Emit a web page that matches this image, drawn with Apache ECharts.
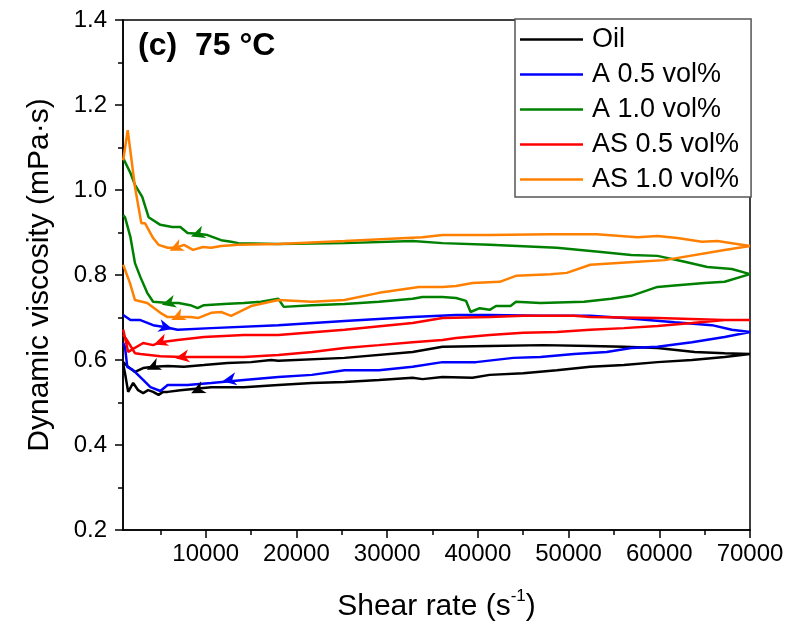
<!DOCTYPE html>
<html><head><meta charset="utf-8">
<script src="https://cdn.jsdelivr.net/npm/echarts@6/dist/echarts.min.js"></script>
<style>html,body{margin:0;padding:0;background:#fff}#c{width:790px;height:630px}</style>
</head><body><div id="c"></div>
<script>
const FONT = 'Liberation Sans, Arial, sans-serif';
const seriesNames = ['Oil', 'A 0.5 vol%', 'A 1.0 vol%', 'AS 0.5 vol%', 'AS 1.0 vol%'];
const seriesColors = ['#000000', '#0000ff', '#008000', '#ff0000', '#ff8000'];
const xMajorTicks = [10000, 20000, 30000, 40000, 50000, 60000, 70000];
const xMinorTicks = [5000, 15000, 25000, 35000, 45000, 55000, 65000];

// Oil
const oilUp = [[900,0.595],[1450,0.584],[2200,0.572],[3100,0.581],[4200,0.584],[5800,0.586],[7600,0.584],[9800,0.588],[12400,0.593],[15000,0.595],[17200,0.600],[18000,0.598],[25300,0.605],[32800,0.619],[36100,0.631],[41300,0.633],[47200,0.635],[52400,0.633],[56100,0.631],[59800,0.628],[63900,0.619],[67200,0.616],[70000,0.614]];
const oilDown = [[900,0.590],[1100,0.569],[1450,0.525],[2000,0.546],[2550,0.529],[3100,0.522],[3650,0.529],[4200,0.525],[4800,0.518],[5300,0.525],[5800,0.525],[7200,0.529],[10600,0.536],[14200,0.536],[18000,0.541],[21700,0.546],[25300,0.548],[29100,0.553],[32800,0.558],[33900,0.555],[36100,0.560],[39400,0.558],[41300,0.565],[45000,0.569],[48700,0.576],[52400,0.584],[56100,0.588],[59800,0.595],[63600,0.600],[67200,0.607],[70000,0.614]];
// A 0.5 vol%
const a05Up = [[900,0.706],[1700,0.694],[2800,0.694],[4200,0.682],[5600,0.677],[6900,0.671],[10600,0.675],[18000,0.682],[25300,0.692],[32800,0.701],[37600,0.706],[41300,0.706],[46900,0.704],[52400,0.704],[56100,0.699],[61700,0.689],[65800,0.682],[68000,0.671],[70000,0.666]];
const a05Down = [[900,0.640],[1100,0.631],[1350,0.584],[2000,0.576],[3100,0.553],[3900,0.536],[5000,0.527],[5800,0.541],[8000,0.541],[10600,0.546],[14200,0.553],[18000,0.560],[21700,0.565],[25300,0.576],[29100,0.576],[32800,0.584],[36100,0.595],[39800,0.595],[43900,0.605],[46900,0.607],[50600,0.614],[54200,0.619],[56900,0.628],[59800,0.631],[63600,0.642],[67200,0.654],[70000,0.666]];
// A 1.0 vol%
const a10Up = [[900,1.075],[1700,1.040],[2200,1.012],[3000,0.984],[3700,0.936],[5000,0.918],[6300,0.913],[7200,0.913],[8000,0.899],[9100,0.897],[10200,0.894],[11700,0.882],[12800,0.878],[13600,0.875],[18000,0.873],[25300,0.875],[32800,0.880],[36100,0.875],[41300,0.871],[48700,0.864],[53600,0.854],[56900,0.847],[59800,0.845],[62800,0.831],[65300,0.819],[68000,0.814],[70000,0.802]];
const a10Down = [[900,0.941],[1100,0.936],[1700,0.889],[2200,0.828],[2800,0.795],[3550,0.758],[4200,0.737],[5900,0.734],[7000,0.734],[8300,0.729],[9100,0.722],[9800,0.729],[12000,0.732],[14200,0.734],[16100,0.737],[18000,0.744],[18600,0.725],[21700,0.729],[25300,0.732],[29100,0.737],[32800,0.744],[33900,0.748],[36100,0.748],[37600,0.746],[38700,0.739],[39200,0.713],[40200,0.722],[41300,0.718],[42000,0.727],[43600,0.727],[44200,0.737],[46900,0.734],[51700,0.737],[54700,0.744],[56900,0.751],[59800,0.772],[62000,0.776],[65000,0.781],[67200,0.784],[70000,0.802]];
// AS 0.5 vol%
const as05Up = [[900,0.672],[1450,0.619],[3100,0.640],[4200,0.635],[5000,0.642],[6900,0.647],[9800,0.654],[14200,0.659],[18000,0.659],[25300,0.671],[32800,0.687],[36100,0.699],[41300,0.701],[45000,0.704],[50600,0.704],[52400,0.701],[59800,0.699],[67200,0.694],[70000,0.694]];
const as05Down = [[900,0.660],[1300,0.647],[2200,0.616],[2800,0.614],[5000,0.609],[7400,0.607],[10600,0.607],[14200,0.607],[18000,0.612],[21700,0.619],[25300,0.628],[29100,0.635],[32800,0.642],[36100,0.647],[37600,0.652],[41300,0.659],[45000,0.664],[48700,0.666],[52400,0.671],[56100,0.675],[59800,0.680],[63600,0.687],[67200,0.694],[70000,0.694]];
// AS 1.0 vol%
const as10Up = [[900,1.070],[1400,1.141],[2200,1.007],[2900,0.922],[3300,0.922],[4200,0.887],[4800,0.871],[5800,0.864],[6700,0.864],[7600,0.871],[8600,0.859],[9700,0.866],[10600,0.864],[11700,0.868],[13600,0.871],[18000,0.873],[25300,0.880],[33900,0.889],[36100,0.894],[41300,0.894],[48000,0.896],[53100,0.896],[57600,0.889],[59800,0.892],[62000,0.887],[64700,0.878],[66400,0.880],[70000,0.868]];
const as10Down = [[900,0.824],[1650,0.781],[2200,0.741],[3550,0.734],[5000,0.711],[5800,0.701],[6900,0.701],[8300,0.701],[9200,0.699],[10600,0.711],[11700,0.713],[12800,0.704],[15000,0.727],[18000,0.741],[21700,0.737],[25300,0.741],[29100,0.758],[33500,0.772],[36100,0.772],[37600,0.774],[39400,0.781],[42400,0.784],[44200,0.798],[48000,0.802],[49800,0.805],[52400,0.824],[57600,0.831],[60600,0.835],[67200,0.859],[70000,0.868]];

// Direction arrows: [shear rate, viscosity, direction angle in degrees (0 = right, counter-clockwise)]
const oilArrows = [[4200,0.584,205],[9100,0.529,205]];
const a05Arrows = [[5600,0.677,-15],[12600,0.553,190]];
const a10Arrows = [[9100,0.896,200],[5900,0.734,195]];
const as05Arrows = [[5000,0.642,200],[7400,0.607,190]];
const as10Arrows = [[6700,0.864,205],[6900,0.701,205]];

const ups = [oilUp, a05Up, a10Up, as05Up, as10Up];
const downs = [oilDown, a05Down, a10Down, as05Down, as10Down];
const arrows = [oilArrows, a05Arrows, a10Arrows, as05Arrows, as10Arrows];

const series = seriesNames.map((name, i) => ({
  name: name,
  type: 'line',
  xAxisIndex: 0, yAxisIndex: 0,
  data: ups[i].concat(downs[i].slice().reverse()),
  symbol: 'none',
  showSymbol: false,
  lineStyle: { color: seriesColors[i], width: 2.5 },
  itemStyle: { color: seriesColors[i] },
  markPoint: {
    symbol: 'path://M0,0 L14,6 L0,12 L4,6 Z',
    symbolSize: [14, 13],
    label: { show: false },
    itemStyle: { color: seriesColors[i] },
    data: arrows[i].map(a => ({ coord: [a[0], a[1]], symbolRotate: a[2] }))
  }
}));

const chart = echarts.init(document.getElementById('c'), null, { renderer: 'canvas' });
chart.setOption({
  animation: false,
  backgroundColor: '#ffffff',
  textStyle: { fontFamily: FONT, color: '#000' },
  title: {
    text: '(c)  75 °C', left: 138, top: 30, padding: 0,
    textStyle: { fontSize: 32, fontWeight: 'bold', color: '#000', fontFamily: FONT }
  },
  grid: { left: 123, right: 40, top: 20, bottom: 100, show: true, borderColor: '#000', borderWidth: 1.5, outerBoundsMode: 'none' },
  legend: {
    orient: 'vertical', left: 515, top: 19,
    padding: [7, 12, 4, 5],
    icon: 'rect',
    itemWidth: 63, itemHeight: 2.5, itemGap: 8,
    backgroundColor: '#fff', borderColor: '#555', borderWidth: 1.5,
    textStyle: { fontSize: 27, lineHeight: 27, color: '#000', fontFamily: FONT, padding: [0, 0, 0, 4] },
    data: seriesNames
  },
  xAxis: [{
    type: 'value', min: 880, max: 70000,
    axisLine: { show: true, lineStyle: { color: '#000', width: 1.5 } },
    axisTick: { show: true, inside: false, length: 8, customValues: xMajorTicks, lineStyle: { color: '#000', width: 1.5 } },
    axisLabel: { customValues: xMajorTicks, fontSize: 24, color: '#000', margin: 12, fontFamily: FONT, formatter: v => String(v) },
    splitLine: { show: false },
    name: '{a|Shear rate (s}{b|-1}{a|)}',
    nameLocation: 'middle', nameGap: 58,
    nameTextStyle: {
      fontFamily: FONT, color: '#000',
      rich: {
        a: { fontSize: 30, fontFamily: FONT, color: '#000', lineHeight: 34, verticalAlign: 'bottom' },
        b: { fontSize: 17, fontFamily: FONT, color: '#000', lineHeight: 34, verticalAlign: 'top' }
      }
    }
  }, {
    type: 'value', min: 880, max: 70000, position: 'bottom',
    axisLine: { show: false },
    axisTick: { show: true, inside: false, length: 5, customValues: xMinorTicks, lineStyle: { color: '#000', width: 1.5 } },
    axisLabel: { show: false },
    splitLine: { show: false }
  }],
  yAxis: {
    type: 'value', min: 0.2, max: 1.4, interval: 0.2,
    axisLine: { show: true, lineStyle: { color: '#000', width: 1.5 } },
    axisTick: { show: true, inside: false, length: 8, lineStyle: { color: '#000', width: 1.5 } },
    minorTick: { show: true, splitNumber: 2, length: 5, lineStyle: { color: '#000', width: 1.5 } },
    axisLabel: { fontSize: 24, color: '#000', margin: 16, fontFamily: FONT, formatter: v => v.toFixed(1) },
    splitLine: { show: false },
    name: 'Dynamic viscosity (mPa·s)',
    nameLocation: 'middle', nameGap: 68,
    nameTextStyle: { fontSize: 30, color: '#000', fontFamily: FONT }
  },
  series: series
});
</script>
</body></html>
